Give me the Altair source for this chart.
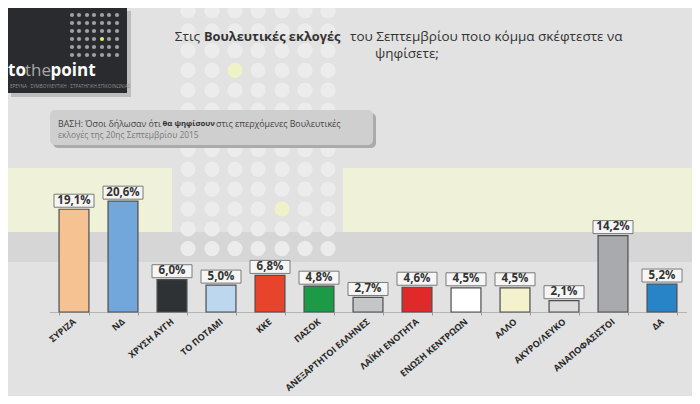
import altair as alt
import pandas as pd

FONT = "Open Sans"

# ---- chart data -----------------------------------------------------------
parties = ["ΣΥΡΙΖΑ", "ΝΔ", "ΧΡΥΣΗ ΑΥΓΗ", "ΤΟ ΠΟΤΑΜΙ", "ΚΚΕ", "ΠΑΣΟΚ",
           "ΑΝΕΞΑΡΤΗΤΟΙ ΕΛΛΗΝΕΣ", "ΛΑΪΚΗ ΕΝΟΤΗΤΑ", "ΕΝΩΣΗ ΚΕΝΤΡΩΩΝ", "ΑΛΛΟ",
           "ΑΚΥΡΟ/ΛΕΥΚΟ", "ΑΝΑΠΟΦΑΣΙΣΤΟΙ", "ΔΑ"]
shares = [19.1, 20.6, 6.0, 5.0, 6.8, 4.8, 2.7, 4.6, 4.5, 4.5, 2.1, 14.2, 5.2]
bar_colors = ["#f7c292", "#72a7db", "#2f3235", "#bcd7ee", "#e8432b", "#1c9a48",
              "#c5c6c8", "#e02a2a", "#ffffff", "#f4f2cd", "#dcdcdc", "#a9aaad",
              "#2884c6"]

title_parts = ["Στις", "Βουλευτικές εκλογές", "του Σεπτεμβρίου ποιο κόμμα σκέφτεστε να",
               "ψηφίσετε;"]
base_parts = ["ΒΑΣΗ: Όσοι δήλωσαν ότι", "θα ψηφίσουν", "στις επερχόμενες Βουλευτικές",
              "εκλογές της 20ης Σεπτεμβρίου 2015"]

df = pd.DataFrame({
    "party": parties,
    "share": shares,
    "label": [f"{v:.1f}%".replace(".", ",") for v in shares],
})


# ---- helpers for the decorative (pixel placed) layers ----------------------
def texts(rows, **mark):
    d = pd.DataFrame(rows, columns=["x", "y", "t"])
    mark.setdefault("align", "left")
    return alt.Chart(d).mark_text(font=FONT, baseline="middle", **mark).encode(
        x=alt.X("x:Q", scale=None), y=alt.Y("y:Q", scale=None), text="t:N")


def rects(rows, **mark):
    d = pd.DataFrame(rows, columns=["x", "x2", "y", "y2", "fill"])
    return alt.Chart(d).mark_rect(**mark).encode(
        x=alt.X("x:Q", scale=None), x2="x2", y=alt.Y("y:Q", scale=None), y2="y2",
        fill=alt.Fill("fill:N", scale=None))


def dots(rows, size):
    d = pd.DataFrame(rows, columns=["x", "y", "fill"])
    return alt.Chart(d).mark_circle(size=size, opacity=1).encode(
        x=alt.X("x:Q", scale=None), y=alt.Y("y:Q", scale=None),
        fill=alt.Fill("fill:N", scale=None))


# background bands
bands = rects([
    (0, 164, 160, 224, "#eff1d9"),
    (335, 684, 160, 224, "#eff1d9"),
    (0, 684, 224, 254, "#d6d6d6"),
])

# big dotted grid behind the title
grid_cols = [180, 204, 227, 250, 274, 297, 320]
grid_rows = [3, 22.8, 42.6, 62.4, 82.2, 102, 121.8, 141.6, 161.4, 181.2, 201, 220.8, 240.6]
grid_hi = {(227, 62.4), (274, 201)}
grid = dots([(c, r, "#eef2c6" if (c, r) in grid_hi else "#ececec")
             for c in grid_cols for r in grid_rows], size=230)

# logo
logo_box = rects([(3, 123, 3, 89, "#bdbdbd"), (0, 119, 0, 85, "#2a2b2e")])
logo_cols = [64, 71, 79, 86, 94, 101, 109]
logo_rows = [7, 15, 23, 31, 39, 47]
logo_dots = dots([(c, r, "#d8f05a" if (c, r) == (94, 31) else "#a0a1a3")
                  for c in logo_cols for r in logo_rows], size=18)
logo_to = texts([(0, 63, "to"), (42.5, 63, "point")], fontSize=17, fontWeight="bold",
                color="#ffffff")
logo_the = texts([(17, 63, "the")], fontSize=17, color="#a8a8a8")
logo_sub = texts([(2, 79, "ΕΡΕΥΝΑ  ·  ΣΥΜΒΟΥΛΕΥΤΙΚΗ  ·  ΣΤΡΑΤΗΓΙΚΗ ΕΠΙΚΟΙΝΩΝΙΑΣ")],
                 fontSize=4.6, color="#8f8f8f")

# "base" note box
base_box = rects([(45, 368, 105, 140, "#ababab"), (42, 365, 102, 137, "#cfcfcf")],
                 cornerRadius=5)
base_norm = texts([(50, 116, base_parts[0]), (208, 116, base_parts[2])],
                  fontSize=8.8, color="#444444")
base_bold = texts([(154.5, 116, base_parts[1])], fontSize=7.8, fontWeight="bold",
                  color="#333333")
base_l2 = texts([(50, 127, base_parts[3])], fontSize=8.4, color="#7a7a7a")

# title
title_first = texts([(192, 29, title_parts[0])], fontSize=13.5, color="#333333",
                    align="right")
title_norm = texts([(342, 29, title_parts[2])], fontSize=13.5, color="#333333")
title_bold = texts([(196, 29, title_parts[1])], fontSize=12.8, fontWeight="bold",
                   color="#333333")
title_l2 = texts([(399, 45.5, title_parts[3])], fontSize=13.5, color="#333333",
                 align="center")

# ---- bars --------------------------------------------------------------------
x = alt.X(
    "party:N", sort=parties, title=None,
    scale=alt.Scale(range=[41.5, 678.5], paddingInner=0.39, paddingOuter=0.195),
    axis=alt.Axis(labelAngle=320, labelAlign="right", labelBaseline="middle",
                  labelPadding=5, labelFont=FONT, labelFontWeight="bold",
                  labelFontSize=9, labelColor="#2a2a2a", domainColor="#b5b5b5",
                  tickColor="#9a9a9a", tickSize=3, tickBand="extent"),
)
y = alt.Y("share:Q", scale=alt.Scale(domain=[0, 56.5], nice=False), axis=None)

base = alt.Chart(df)
bars = base.mark_bar(stroke="#4d4d4d", strokeWidth=1.2).encode(
    x=x, y=y,
    fill=alt.Fill("party:N", scale=alt.Scale(domain=parties, range=bar_colors),
                  legend=None),
)
boxes = base.mark_bar(width=40, fill="#f6f6f6", stroke="#7a7a7a", strokeWidth=1,
                      yOffset=-2, y2Offset=-15).encode(x=x, y=y, y2="share:Q")
values = base.mark_text(dy=-8.5, font=FONT, fontWeight="bold", fontSize=11.5,
                        color="#333333").encode(x=x, y=y, text="label:N")

chart = alt.layer(
    bands, grid, logo_box, logo_dots, logo_to, logo_the, logo_sub,
    base_box, base_norm, base_bold, base_l2,
    title_first, title_norm, title_bold, title_l2,
    bars, boxes, values,
).properties(
    width=684, height=304,
    autosize=alt.AutoSizeParams(type="none"),
    padding={"left": 0, "right": 0, "top": 0, "bottom": 84},
    background="#e2e2e2",
).configure_view(stroke=None)

chart.save("out.html", embed_options={"renderer": "svg", "actions": False})
